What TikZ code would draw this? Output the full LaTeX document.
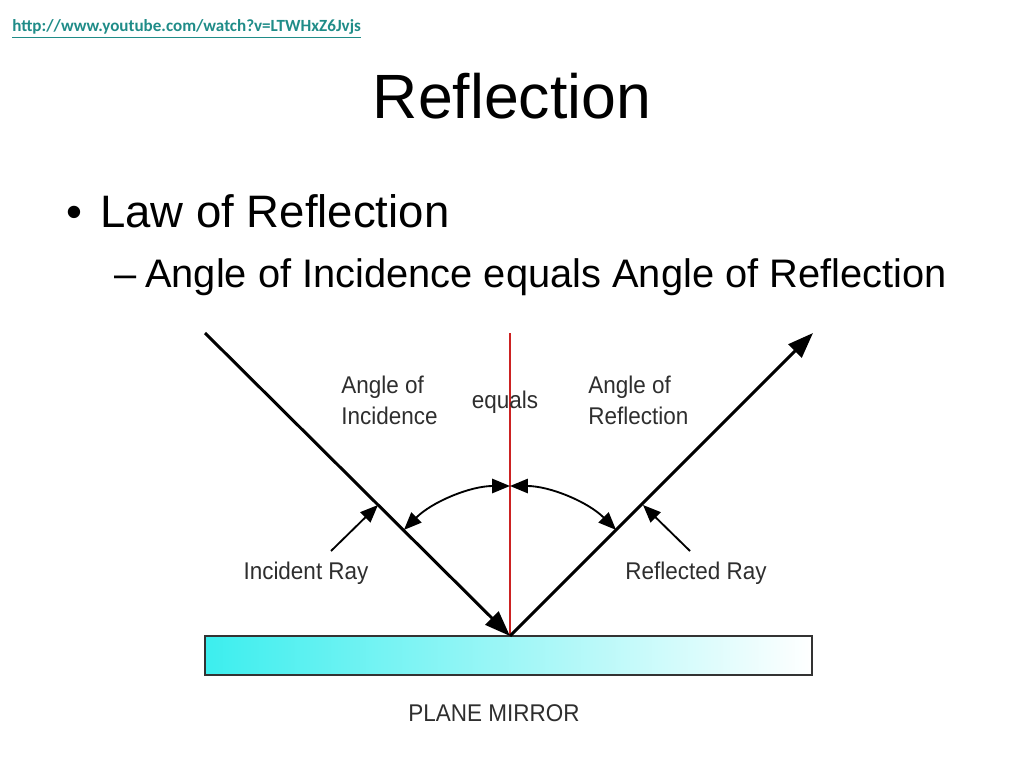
\documentclass[tikz,border=0pt]{standalone}
\usepackage{fontspec}
\setmainfont{Liberation Sans}
\newfontfamily\urlfont{Carlito}
\newfontfamily\narrowfont[FakeStretch=0.93]{Liberation Sans}
\usetikzlibrary{arrows.meta}
\definecolor{urlteal}{HTML}{1F8C88}
\definecolor{mirrorcyan}{HTML}{3CEEEE}
\definecolor{labelgrey}{HTML}{2E2E2E}
\definecolor{normalred}{HTML}{CC2222}
\begin{document}
\begin{tikzpicture}[x=0.703125pt,y=-0.703125pt,
  every node/.style={inner sep=0pt},
  lbl/.style={font=\narrowfont\fontsize{17}{20}\selectfont, text=labelgrey},
  ray/.style={line width=2.1pt, -{Triangle[length=18pt,width=13pt]}},
  swing/.style={line width=1.3pt, {Triangle[length=12.5pt,width=10pt]}-{Triangle[length=12.5pt,width=10pt]}},
  pointer/.style={line width=1.3pt, -{Triangle[length=12.5pt,width=10pt]}}]
  \useasboundingbox (0,0) rectangle (1024,768);

  % slide text
  \node[anchor=base west, font=\urlfont\bfseries\fontsize{12}{14}\selectfont, text=urlteal] (url) at (12,32) {\underline{http://www.youtube.com/watch?v=LTWHxZ6Jvjs}};
  \node[anchor=base, font=\fontsize{44}{52}\selectfont] (title) at (512,119) {Reflection};
  \node[anchor=base west, font=\fontsize{32}{38}\selectfont] (dot) at (66,228) {\textbullet};
  \node[anchor=base west, font=\fontsize{32}{38}\selectfont] (law) at (100,228) {Law of Reflection};
  \node[anchor=base west, font=\fontsize{28}{34}\selectfont] (dash) at (114,287) {\textendash};
  \node[anchor=base west, font=\fontsize{28}{34}\selectfont] (sub) at (145,287) {Angle of Incidence equals Angle of Reflection};

  % mirror
  \shade[left color=mirrorcyan, middle color=mirrorcyan!50!white, right color=white] (205,636) rectangle (812,675);
  \draw[line width=1.3pt, draw=black!80] (205,636) rectangle (812,675);

  \coordinate (o) at (510,636);
  \coordinate (n) at (510,333);
  \coordinate (a) at (205,333);
  \coordinate (b) at (813,333);

  % normal and rays
  \draw[normalred, line width=1.8pt] (n) -- (o);
  \draw[ray] (a) -- (o);
  \draw[ray] (o) -- (b);

  % angles
  \draw[swing] ([shift={(-135:150)}]o) arc[start angle=-135, end angle=-90, radius=150];
  \draw[swing] ([shift={(-45:150)}]o) arc[start angle=-45, end angle=-90, radius=150];

  % labels
  \node[lbl, anchor=base west] (inc1) at (341,393) {Angle of};
  \node[lbl, anchor=base west] (inc2) at (341,424) {Incidence};
  \node[lbl, anchor=base] (eq) at (505,408) {equals};
  \node[lbl, anchor=base west] (ref1) at (588,393) {Angle of};
  \node[lbl, anchor=base west] (ref2) at (588,424) {Reflection};
  \node[lbl, anchor=base] (incray) at (306,579) {Incident Ray};
  \node[lbl, anchor=base] (refray) at (696,579) {Reflected Ray};
  \node[lbl, anchor=base] (mirror) at (494,721) {PLANE MIRROR};

  \coordinate (ip) at (331,551);
  \coordinate (it) at (378,505);
  \coordinate (rp) at (690,551);
  \coordinate (rt) at (643,505);
  \draw[pointer] (ip) -- (it);
  \draw[pointer] (rp) -- (rt);
\end{tikzpicture}
\end{document}
